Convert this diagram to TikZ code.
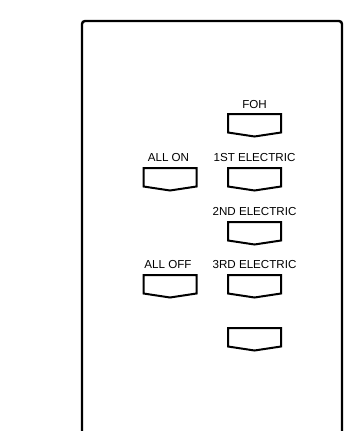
\documentclass[tikz,border=0pt]{standalone}
\usepackage{fontspec}
\setmainfont{Liberation Sans}
\begin{document}
\begin{tikzpicture}[x=1pt,y=-1pt,
  frame/.style={draw=black,line width=2.4pt,rounded corners=3pt},
  keyline/.style={draw=black,line width=2pt,line join=miter},
  keylabel/.style={anchor=base,inner sep=0pt,font=\fontsize{11.6}{13}\selectfont},
  pics/keybox/.style={code={
    \draw[keyline] (-26.5,0) -- (26.5,0) -- (26.5,18.5) -- (0,22.5) -- (-26.5,18.5) -- cycle;
  }}]
\useasboundingbox (0,0) rectangle (362,431);
\draw[frame] (82,431) -- (82,21) -- (342,21) -- (342,431);
% right column
\pic at (254.5,114) {keybox};
\node[keylabel] (foh) at (254.5,108.5) {FOH};
\pic at (254.5,168) {keybox};
\node[keylabel] (e1) at (254.5,161.5) {1ST ELECTRIC};
\pic at (254.5,222) {keybox};
\node[keylabel] (e2) at (254.5,215.5) {2ND ELECTRIC};
\pic at (254.5,275) {keybox};
\node[keylabel] (e3) at (254.5,268.5) {3RD ELECTRIC};
\pic at (254.5,328) {keybox};
% left column
\pic at (170,168) {keybox};
\node[keylabel] (allon) at (168.5,161.5) {ALL ON};
\pic at (170,275) {keybox};
\node[keylabel] (alloff) at (168,268.5) {ALL OFF};
\end{tikzpicture}
\end{document}
